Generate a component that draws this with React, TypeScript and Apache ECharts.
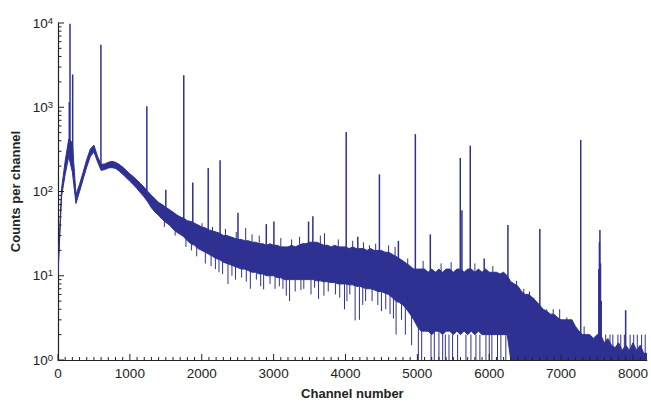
import React, { useEffect, useRef } from 'react';
import * as echarts from 'echarts';

// Band of the noisy continuum, sampled every 50 channels (channel = index * 50)
const CHANNEL_STEP = 50;
const bandLow = [
  10, 88, 160, 260, 170, 72, 100, 140, 195, 260,
  295, 225, 178, 182, 190, 192, 188, 175, 160, 146,
  132, 120, 108, 96, 86, 75, 64, 57, 52, 47,
  43, 40, 36, 33, 31, 29, 26, 24, 23, 21,
  20, 19, 18, 17, 16, 15.5, 14.5, 14, 13.5, 13,
  12.5, 12, 12, 11.5, 11, 11, 10.5, 10.5, 10, 10,
  10, 9.5, 9.5, 9, 9, 9, 9, 9, 9, 9,
  9, 9, 8.7, 8.7, 8.5, 8.5, 8.3, 8.3, 8, 8,
  8, 7.8, 7.8, 7.5, 7.5, 7.2, 7, 7, 6.8, 6.5,
  6.5, 6.2, 6, 5.5, 5, 4.8, 4.5, 4, 3.5, 3,
  2.5, 2.2, 2.2, 2.2, 2, 2.2, 2.2, 2, 2.2, 2.2,
  2, 2.2, 2, 2.2, 2, 2.2, 2, 2.2, 2, 2,
  2, 2, 2, 2, 2, 2, 1, 1, 1, 1,
  1, 1, 1, 1, 1, 1, 1, 1, 1, 1,
  1, 1, 1, 1, 1, 1, 1, 1, 1, 1,
  1, 1, 1, 1, 1, 1, 1, 1, 1, 1,
  1, 1, 1, 1, 1,
];
const bandHigh = [
  12, 108, 230, 420, 380, 92, 122, 170, 240, 320,
  355, 262, 210, 212, 222, 228, 222, 210, 195, 178,
  162, 150, 136, 124, 112, 100, 90, 82, 74, 70,
  65, 61, 57, 53, 50, 48, 45, 44, 42, 40,
  38, 37, 35, 34, 33, 32, 30, 30, 29, 28,
  27, 27, 26, 26, 25, 25, 24, 24, 23, 24,
  23, 23, 22, 22, 22, 23, 22, 23, 24, 24,
  25, 25, 25, 24, 23, 23, 22, 23, 22, 22,
  22, 21, 22, 21, 21, 21, 20, 21, 20, 20,
  20, 19, 19, 18, 17, 16, 15, 14, 13, 12,
  12, 12, 12, 11, 12, 11, 12, 11, 12, 12,
  11, 12, 12, 11, 12, 12, 11, 12, 11, 12,
  11, 11, 11, 10.5, 11, 10, 8.5, 8, 7.5, 6.5,
  6, 6, 5.5, 5, 4.5, 4, 3.8, 3.5, 3.5, 3.2,
  3, 3, 3, 3, 2.5, 2.2, 2, 2, 2, 1.8,
  2, 2, 1.6, 1.8, 1.5, 1.4, 1.6, 1.3, 1.5, 1.3,
  1.6, 1.3, 1.5, 1.2, 1.2,
];

// Photopeaks: [channel, base count, top count]
const peaks = [
  [157, 300, 1150], [167, 300, 9800], [204, 250, 2450], [597, 190, 5500],
  [1236, 85, 1030], [1500, 60, 105], [1750, 35, 2400], [1875, 30, 128],
  [2090, 25, 190], [2255, 22, 235], [2504, 18, 56], [2898, 15, 41],
  [3004, 15, 44], [3486, 14, 44], [3546, 14, 51], [4010, 12, 510],
  [4171, 11, 29], [4472, 10, 160], [4736, 8, 26], [4972, 5, 480],
  [5180, 4, 31], [5597, 4, 250], [5620, 4, 60], [5736, 4, 350],
  [5930, 4, 16], [6260, 3, 40], [6704, 1.5, 36], [7273, 1.2, 410],
  [7525, 1, 12], [7533, 1, 25], [7540, 1, 35], [7548, 1, 14],
  [7558, 1, 5], [7898, 1, 3.9],
];

// Noise excursions outside the band: [channel, from count, to count]
const noiseSpikes = [
  [2004, 20, 42], [2611, 14, 37], [3361, 10, 29], [3708, 10, 32], [4333, 8, 23], [4866, 5, 16],
  [2150, 30, 38], [2330, 28, 36], [2480, 26, 33], [2700, 24, 31], [2800, 23, 30], [3100, 21, 28],
  [3250, 21, 27], [3650, 22, 30], [3900, 21, 27], [4100, 20, 26], [4250, 20, 25], [4420, 19, 24],
  [4600, 18, 23], [4690, 17, 22],
  [1480, 45, 38], [1630, 40, 30], [1780, 30, 22], [1856, 26, 20], [1930, 24, 17], [2050, 21, 14],
  [2130, 19, 13], [2240, 17, 11], [2365, 15, 8], [2420, 14, 10], [2555, 13, 9.5], [2676, 12, 7],
  [2760, 11, 9], [2861, 11, 6.9], [2950, 10, 8], [3080, 10, 7.5], [3176, 9.5, 5.8], [3222, 9, 5],
  [3300, 9, 6.5], [3420, 9, 7], [3520, 9, 6], [3625, 9, 5.3], [3760, 8.5, 6.5], [3860, 8.5, 6],
  [3986, 8, 4], [4060, 8, 6], [4134, 7.8, 2.95], [4194, 7.5, 3], [4280, 7, 5], [4370, 7, 5],
  [4450, 6.5, 4.5], [4560, 6.2, 4], [4667, 5.5, 3.1], [4704, 5, 2], [4780, 4.8, 3], [4833, 4.5, 2],
  [2190, 17, 12], [2290, 15, 10.5], [2470, 13, 9], [2620, 12, 8.5], [2820, 10.5, 7.5], [3020, 10, 7],
  [3130, 9.5, 7], [3380, 9, 6.8], [3570, 9, 7.2], [3700, 8.5, 5.8], [3920, 8, 5.5], [4020, 8, 5],
  [4240, 7.2, 4.5], [4500, 6.5, 3.8], [4620, 6, 3.5],
  [4920, 3.5, 1.5], [5014, 2.5, 1], [5060, 2.2, 1], [5190, 2.2, 1], [5236, 2.2, 1], [5300, 2.2, 1],
  [5352, 2, 1], [5389, 2, 1], [5440, 2, 1], [5490, 2, 1], [5560, 2, 1], [5676, 2, 1],
  [5745, 2, 1], [5815, 2, 1], [5870, 2, 1], [5954, 2, 1], [6000, 2, 1], [6037, 2, 1],
  [6115, 2, 1], [6162, 2, 1], [6231, 2, 1],
  [5080, 10, 15], [5330, 11, 14], [5470, 11, 14.5], [5800, 11, 14], [6050, 10, 13],
  [6380, 6, 8.7], [6480, 5, 7], [6560, 5, 6.5], [6620, 4, 5.5], [6800, 3, 4], [6890, 3, 4],
  [6980, 3, 4], [7080, 2.5, 3.2], [7150, 2.5, 3], [7320, 1.5, 2.5],
  [7620, 1, 2], [7680, 1, 2], [7720, 1, 2], [7790, 1, 2], [7830, 1, 2], [7880, 1, 2],
  [7960, 1, 2], [8010, 1, 2], [8060, 1, 2], [8120, 1, 2], [8170, 1, 2],
];

const xMajorTicks = [0, 1000, 2000, 3000, 4000, 5000, 6000, 7000, 8000];
const yDecades = [1, 10, 100, 1000, 10000];

const COLOR = '#2E3192';
const AXIS = '#222222';
const FONT = '"Liberation Sans", Arial, Helvetica, sans-serif';

export default function App() {
  const ref = useRef<HTMLDivElement>(null);

  useEffect(() => {
    const chart = echarts.init(ref.current as HTMLDivElement, null, { renderer: 'svg' });

    const bandRows = bandLow.map((lo, i) => [i * CHANNEL_STEP, lo, bandHigh[i]]);

    const xMinor: number[][] = [];
    for (let c = 100; c <= 8100; c += 100) if (c % 1000 !== 0) xMinor.push([c, 1]);
    const yMinor: number[][] = [];
    yDecades.slice(0, 4).forEach((d) => {
      for (let m = 2; m <= 9; m++) yMinor.push([0, d * m]);
    });

    const tickSeries = (data: number[][], len: number, vertical: boolean) => ({
      type: 'custom',
      silent: true,
      clip: false,
      z: 5,
      data,
      renderItem: (_p: any, api: any) => {
        const pt = api.coord([api.value(0), api.value(1)]);
        return {
          type: 'line',
          shape: vertical
            ? { x1: pt[0], y1: pt[1], x2: pt[0], y2: pt[1] - len }
            : { x1: pt[0], y1: pt[1], x2: pt[0] + len, y2: pt[1] },
          style: { stroke: AXIS, lineWidth: 1 },
        };
      },
    });

    const segSeries = (data: number[][], width: number) => ({
      type: 'custom',
      silent: true,
      clip: true,
      z: 3,
      data,
      renderItem: (_p: any, api: any) => {
        const a = api.coord([api.value(0), api.value(1)]);
        const b = api.coord([api.value(0), api.value(2)]);
        return {
          type: 'line',
          shape: { x1: a[0], y1: a[1], x2: b[0], y2: b[1] },
          style: { stroke: COLOR, lineWidth: width },
        };
      },
    });

    chart.setOption({
      animation: false,
      grid: { left: 58, right: 3, top: 23, bottom: 42 },
      xAxis: {
        type: 'value',
        min: 0,
        max: 8192,
        interval: 1000,
        name: 'Channel number',
        nameLocation: 'middle',
        nameGap: 27,
        nameTextStyle: { fontFamily: FONT, fontWeight: 'bold', fontSize: 13, color: AXIS },
        axisLine: { show: true, onZero: false, lineStyle: { color: AXIS, width: 1.2 } },
        axisTick: { show: false },
        splitLine: { show: false },
        axisLabel: {
          margin: 6,
          fontFamily: FONT,
          fontSize: 13.5,
          color: AXIS,
          formatter: (v: number) => (xMajorTicks.indexOf(v) >= 0 ? String(v) : ''),
        },
      },
      yAxis: {
        type: 'log',
        logBase: 10,
        min: 1,
        max: 10000,
        name: 'Counts per channel',
        nameLocation: 'middle',
        nameGap: 34,
        nameTextStyle: { fontFamily: FONT, fontWeight: 'bold', fontSize: 13, color: AXIS },
        axisLine: { show: true, lineStyle: { color: AXIS, width: 1.2 } },
        axisTick: { show: false },
        splitLine: { show: false },
        axisLabel: {
          margin: 5,
          formatter: (v: number) => `{b|10}{s|${Math.round(Math.log10(v))}}`,
          rich: {
            b: { fontFamily: FONT, fontSize: 13.5, color: AXIS, lineHeight: 16 },
            s: { fontFamily: FONT, fontSize: 9.5, color: AXIS, verticalAlign: 'top', lineHeight: 16 },
          },
        },
      },
      series: [
        {
          type: 'custom',
          silent: true,
          clip: true,
          z: 2,
          data: bandRows,
          renderItem: (params: any, api: any) => {
            if (params.dataIndex !== 0) return null;
            const top = bandRows.map((r) => api.coord([r[0], r[2]]));
            const bottom = bandRows.map((r) => api.coord([r[0], r[1]])).reverse();
            return {
              type: 'polygon',
              shape: { points: top.concat(bottom) },
              style: { fill: COLOR, stroke: COLOR, lineWidth: 1 },
            };
          },
        },
        segSeries(noiseSpikes, 1),
        segSeries(peaks, 1.5),
        tickSeries(xMajorTicks.map((c) => [c, 1]), 6, true),
        tickSeries(xMinor, 3, true),
        tickSeries(yDecades.map((d) => [0, d]), 6, false),
        tickSeries(yMinor, 3.5, false),
      ],
    });

    return () => chart.dispose();
  }, []);

  return (
    <div
      ref={ref}
      style={{ position: 'fixed', left: 0, top: 0, width: 651, height: 405, background: '#fff' }}
    />
  );
}
